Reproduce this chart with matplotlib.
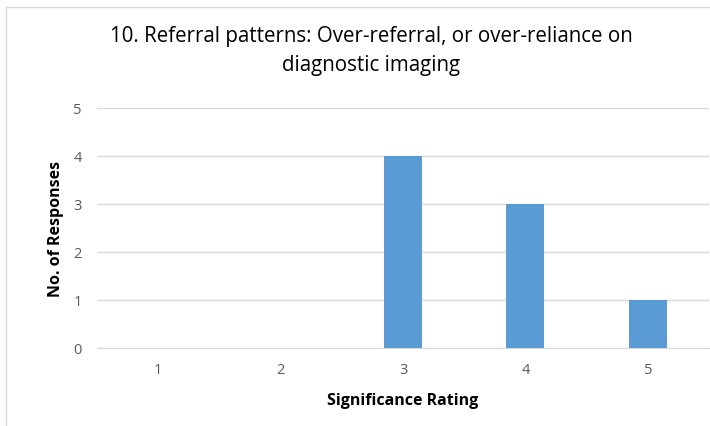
import matplotlib
matplotlib.use("Agg")
import matplotlib.pyplot as plt
from matplotlib.lines import Line2D

# data
ratings = ["1", "2", "3", "4", "5"]
responses = [0, 0, 4, 3, 1]
y_ticks = [0, 1, 2, 3, 4, 5]

TITLE = "10. Referral patterns: Over-referral, or over-reliance on\ndiagnostic imaging"
BAR_COLOR = "#5b9bd5"
GRID_COLOR = "#d9d9d9"
TICK_COLOR = "#595959"

plt.rcParams['font.family'] = ['Open Sans', 'DejaVu Sans']

W, H = 710, 427
fig = plt.figure(figsize=(W / 100, H / 100), dpi=100)
ax = fig.add_axes([97 / W, 1 - 349 / H, (709 - 97) / W, (349 - 109) / H])

x = list(range(len(ratings)))
ax.bar(x, responses, width=0.31, color=BAR_COLOR, zorder=3)

ax.set_xlim(-0.5, len(ratings) - 0.5)
ax.set_ylim(0, 5)
ax.set_yticks(y_ticks)
ax.set_xticks(x)
ax.set_xticklabels(ratings)
ax.yaxis.grid(True, color=GRID_COLOR, linewidth=1, zorder=0)
for s in ["top", "right", "left"]:
    ax.spines[s].set_visible(False)
ax.spines["bottom"].set_color(GRID_COLOR)
ax.tick_params(axis="both", length=0, colors=TICK_COLOR, labelsize=10.5)
ax.tick_params(axis="x", pad=10)
ax.tick_params(axis="y", pad=11)

ax.set_xlabel("Significance Rating", fontsize=11.5, fontweight="bold", labelpad=11)
ax.set_ylabel("No. of Responses", fontsize=11.5, fontweight="bold", labelpad=7)

fig.text(371 / W, 1 - 51 / H, TITLE, ha="center", va="center", fontsize=14.8,
         linespacing=1.5)

# chart frame (left and top edges visible)
fig.add_artist(Line2D([6 / W, 6 / W], [0, 1 - 8 / H], color="#d9d9d9", lw=1))
fig.add_artist(Line2D([6 / W, 1], [1 - 8 / H, 1 - 8 / H], color="#d9d9d9", lw=1))

fig.savefig("out.png", dpi=100)
